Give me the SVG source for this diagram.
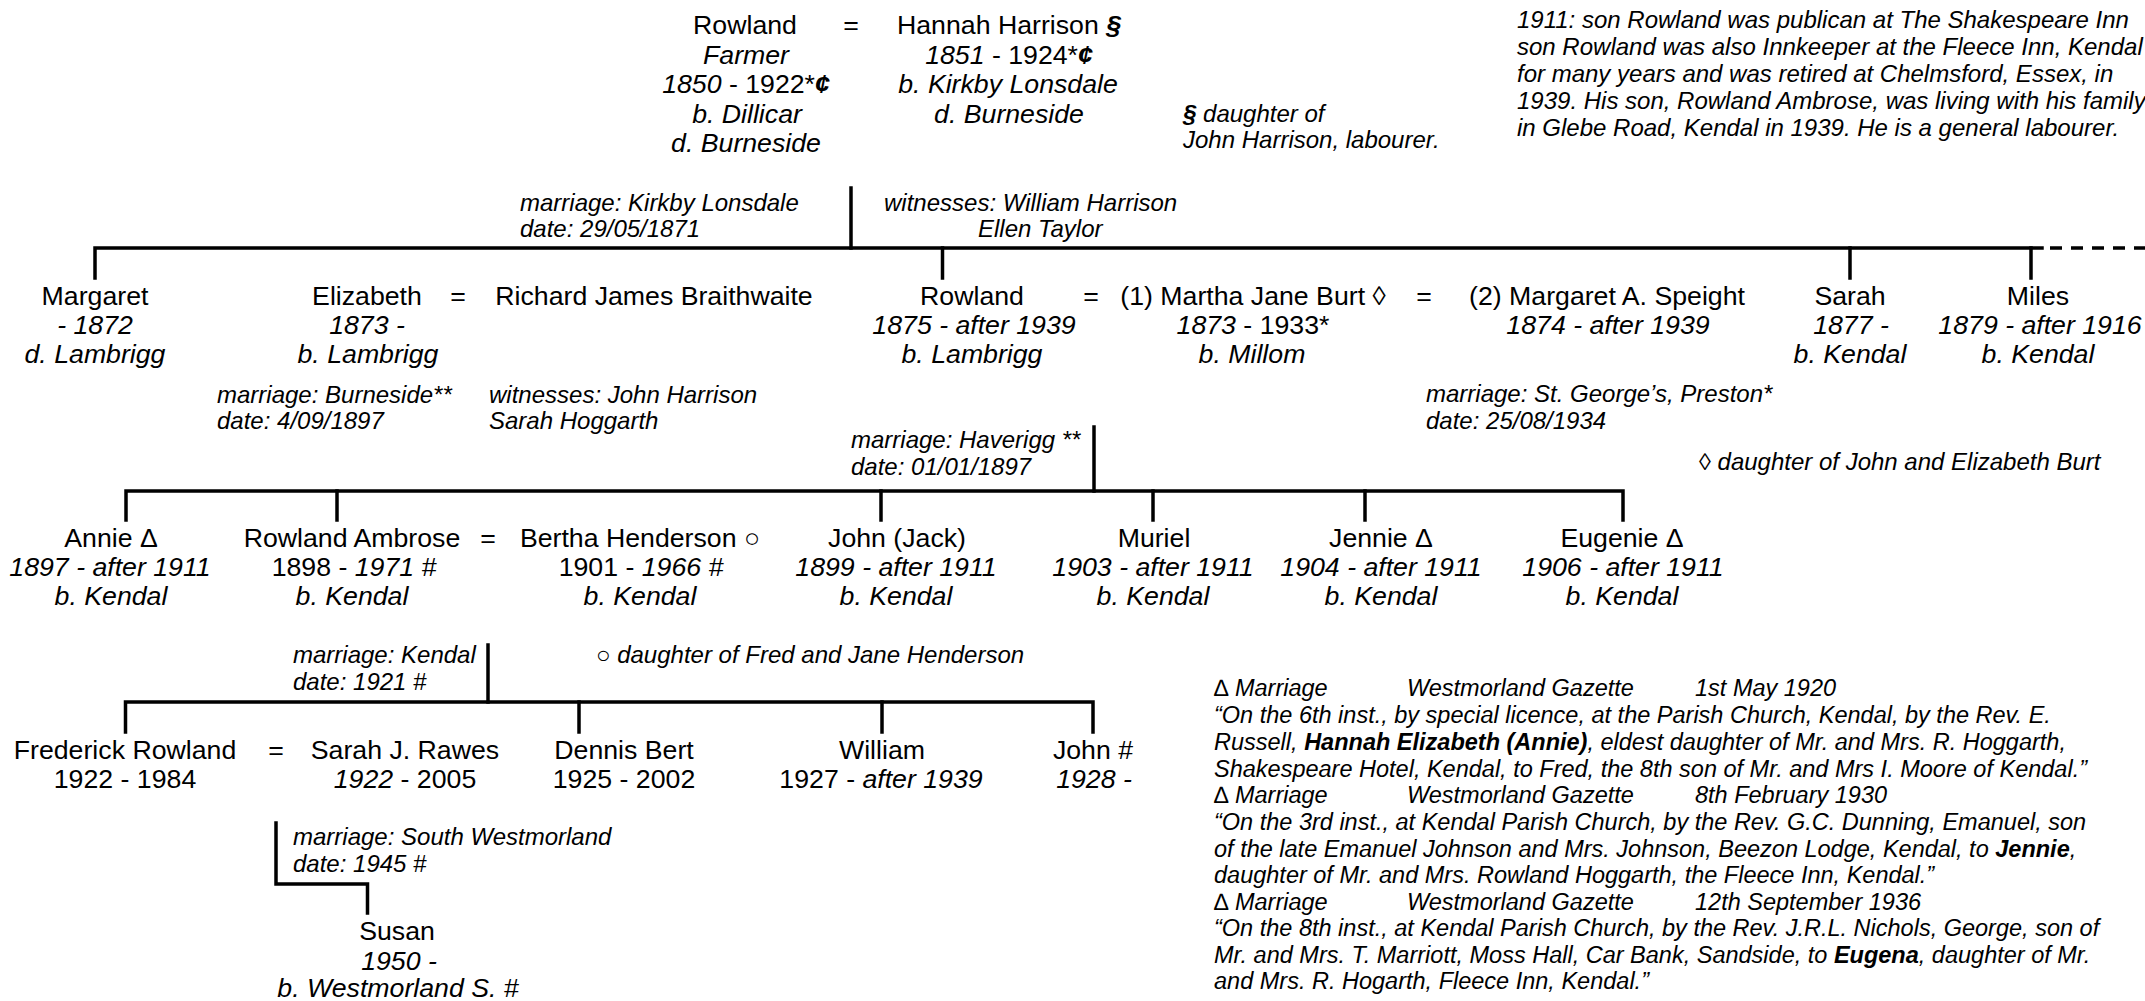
<svg xmlns="http://www.w3.org/2000/svg" width="2145" height="1001" viewBox="0 0 2145 1001">
<style>
text { font-family: "Liberation Sans", Arial, sans-serif; fill: #000; }
.n { font-size: 26.7px; text-anchor: middle; }
.a { font-size: 24px; font-style: italic; }
.g { font-size: 23.5px; font-style: italic; }
.i { font-style: italic; }
.r { font-style: normal; }
.b { font-weight: bold; }
.ln { stroke: #000; stroke-width: 3.5; fill: none; stroke-linecap: square; }
.dash { stroke: #000; stroke-width: 3.5; fill: none; stroke-dasharray: 12 9; }
</style>
<rect width="2145" height="1001" fill="#fff"/>

<g id="connectors">
  <path class="ln" d="M851 188 V248"/>
  <path class="ln" d="M95 278 V248 H2042"/>
  <path class="dash" d="M2050 248 H2145"/>
  <path class="ln" d="M942.5 248 V278"/>
  <path class="ln" d="M1850 248 V278"/>
  <path class="ln" d="M2031 248 V278"/>
  <path class="ln" d="M1094 427 V491"/>
  <path class="ln" d="M126 520 V491 H1623 V520"/>
  <path class="ln" d="M337 491 V520"/>
  <path class="ln" d="M881 491 V520"/>
  <path class="ln" d="M1153 491 V520"/>
  <path class="ln" d="M1365 491 V520"/>
  <path class="ln" d="M488 645 V702"/>
  <path class="ln" d="M125.5 732 V702 H1093 V732"/>
  <path class="ln" d="M579 702 V732"/>
  <path class="ln" d="M882 702 V732"/>
  <path class="ln" d="M276 823 V884 H367.5 V913"/>
</g>

<g id="rowland-sr">
  <text class="n" x="745" y="34">Rowland</text>
  <text class="n i" x="746" y="64">Farmer</text>
  <text class="n" x="746" y="93"><tspan class="i">1850</tspan> - 1922*<tspan class="i b">¢</tspan></text>
  <text class="n i" x="747" y="123">b. Dillicar</text>
  <text class="n i" x="746" y="152">d. Burneside</text>
</g>
<g id="eq-top"><text class="n" x="851" y="34">=</text></g>
<g id="hannah">
  <text class="n" x="1009" y="34">Hannah Harrison <tspan class="i b">§</tspan></text>
  <text class="n" x="1009" y="64"><tspan class="i">1851</tspan> - 1924*<tspan class="i b">¢</tspan></text>
  <text class="n i" x="1008" y="93">b. Kirkby Lonsdale</text>
  <text class="n i" x="1009" y="123">d. Burneside</text>
</g>
<g id="note-hannah">
  <text class="a" x="1183" y="122"><tspan class="b">§</tspan> daughter of</text>
  <text class="a" x="1183" y="148">John Harrison, labourer.</text>
</g>
<g id="note-1911">
  <text class="a" x="1517" y="28">1911: son Rowland was publican at The Shakespeare Inn</text>
  <text class="a" x="1517" y="55">son Rowland was also Innkeeper at the Fleece Inn, Kendal</text>
  <text class="a" x="1517" y="82">for many years and was retired at Chelmsford, Essex, in</text>
  <text class="a" x="1517" y="109">1939. His son, Rowland Ambrose, was living with his family</text>
  <text class="a" x="1517" y="136">in Glebe Road, Kendal in 1939. He is a general labourer.</text>
</g>
<g id="marriage-1871">
  <text class="a" x="520" y="211">marriage: Kirkby Lonsdale</text>
  <text class="a" x="520" y="237">date: 29/05/1871</text>
  <text class="a" x="884" y="211">witnesses: William Harrison</text>
  <text class="a" x="978" y="237">Ellen Taylor</text>
</g>

<g id="margaret">
  <text class="n" x="95" y="305">Margaret</text>
  <text class="n i" x="95" y="334">- 1872</text>
  <text class="n i" x="95" y="363">d. Lambrigg</text>
</g>
<g id="elizabeth">
  <text class="n" x="367" y="305">Elizabeth</text>
  <text class="n i" x="367" y="334">1873 -</text>
  <text class="n i" x="368" y="363">b. Lambrigg</text>
</g>
<g id="eq-eliz"><text class="n" x="458" y="305">=</text></g>
<g id="richard"><text class="n" x="654" y="305">Richard James Braithwaite</text></g>
<g id="marriage-1897b">
  <text class="a" x="217" y="403">marriage: Burneside**</text>
  <text class="a" x="217" y="429">date: 4/09/1897</text>
  <text class="a" x="489" y="403">witnesses: John Harrison</text>
  <text class="a" x="489" y="429">Sarah Hoggarth</text>
</g>
<g id="rowland">
  <text class="n" x="972" y="305">Rowland</text>
  <text class="n i" x="974" y="334">1875 - after 1939</text>
  <text class="n i" x="972" y="363">b. Lambrigg</text>
</g>
<g id="eq-rowland1"><text class="n" x="1091" y="305">=</text></g>
<g id="martha">
  <text class="n" x="1253" y="305">(1) Martha Jane Burt ◊</text>
  <text class="n" x="1253" y="334"><tspan class="i">1873</tspan> - 1933*</text>
  <text class="n i" x="1252" y="363">b. Millom</text>
</g>
<g id="eq-rowland2"><text class="n" x="1424" y="305">=</text></g>
<g id="margaret-speight">
  <text class="n" x="1607" y="305">(2) Margaret A. Speight</text>
  <text class="n i" x="1608" y="334">1874 - after 1939</text>
</g>
<g id="marriage-1934">
  <text class="a" x="1426" y="402">marriage: St. George’s, Preston*</text>
  <text class="a" x="1426" y="429">date: 25/08/1934</text>
</g>
<g id="note-burt">
  <text class="a" x="1699" y="470"><tspan class="r">◊</tspan> daughter of John and Elizabeth Burt</text>
</g>
<g id="sarah">
  <text class="n" x="1850" y="305">Sarah</text>
  <text class="n i" x="1851" y="334">1877 -</text>
  <text class="n i" x="1850" y="363">b. Kendal</text>
</g>
<g id="miles">
  <text class="n" x="2038" y="305">Miles</text>
  <text class="n i" x="2040" y="334">1879 - after 1916</text>
  <text class="n i" x="2038" y="363">b. Kendal</text>
</g>
<g id="marriage-1897h">
  <text class="a" x="851" y="448">marriage: Haverigg **</text>
  <text class="a" x="851" y="475">date: 01/01/1897</text>
</g>

<g id="annie">
  <text class="n" x="111" y="547">Annie Δ</text>
  <text class="n i" x="110" y="576">1897 - after 1911</text>
  <text class="n i" x="111" y="605">b. Kendal</text>
</g>
<g id="rowland-ambrose">
  <text class="n" x="352" y="547">Rowland Ambrose</text>
  <text class="n" x="354" y="576">1898 - <tspan class="i">1971 #</tspan></text>
  <text class="n i" x="352" y="605">b. Kendal</text>
</g>
<g id="eq-ra"><text class="n" x="488" y="547">=</text></g>
<g id="bertha">
  <text class="n" x="640" y="547">Bertha Henderson ○</text>
  <text class="n" x="641" y="576">1901 - <tspan class="i">1966 #</tspan></text>
  <text class="n i" x="640" y="605">b. Kendal</text>
</g>
<g id="john-jack">
  <text class="n" x="897" y="547">John (Jack)</text>
  <text class="n i" x="896" y="576">1899 - after 1911</text>
  <text class="n i" x="896" y="605">b. Kendal</text>
</g>
<g id="muriel">
  <text class="n" x="1154" y="547">Muriel</text>
  <text class="n i" x="1153" y="576">1903 - after 1911</text>
  <text class="n i" x="1153" y="605">b. Kendal</text>
</g>
<g id="jennie">
  <text class="n" x="1381" y="547">Jennie Δ</text>
  <text class="n i" x="1381" y="576">1904 - after 1911</text>
  <text class="n i" x="1381" y="605">b. Kendal</text>
</g>
<g id="eugenie">
  <text class="n" x="1622" y="547">Eugenie Δ</text>
  <text class="n i" x="1623" y="576">1906 - after 1911</text>
  <text class="n i" x="1622" y="605">b. Kendal</text>
</g>
<g id="marriage-1921">
  <text class="a" x="293" y="663">marriage: Kendal</text>
  <text class="a" x="293" y="690">date: 1921 #</text>
</g>
<g id="note-henderson">
  <text class="a" x="596" y="663"><tspan class="r">○</tspan> daughter of Fred and Jane Henderson</text>
</g>

<g id="frederick">
  <text class="n" x="125" y="759">Frederick Rowland</text>
  <text class="n" x="125" y="788">1922 - 1984</text>
</g>
<g id="eq-fr"><text class="n" x="276" y="759">=</text></g>
<g id="sarah-rawes">
  <text class="n" x="405" y="759">Sarah J. Rawes</text>
  <text class="n" x="405" y="788"><tspan class="i">1922</tspan> - 2005</text>
</g>
<g id="dennis">
  <text class="n" x="624" y="759">Dennis Bert</text>
  <text class="n" x="624" y="788">1925 - 2002</text>
</g>
<g id="william">
  <text class="n" x="882" y="759">William</text>
  <text class="n" x="881" y="788">1927 - <tspan class="i">after 1939</tspan></text>
</g>
<g id="john">
  <text class="n" x="1093" y="759">John #</text>
  <text class="n i" x="1094" y="788">1928 -</text>
</g>
<g id="marriage-1945">
  <text class="a" x="293" y="845">marriage: South Westmorland</text>
  <text class="a" x="293" y="872">date: 1945 #</text>
</g>
<g id="susan">
  <text class="n" x="397" y="940">Susan</text>
  <text class="n i" x="399" y="970">1950 -</text>
  <text class="n i" x="398" y="997">b. Westmorland S. #</text>
</g>

<g id="gazette-notes">
  <text class="g" x="1214" y="696"><tspan class="r">∆</tspan> Marriage</text>
  <text class="g" x="1407" y="696">Westmorland Gazette</text>
  <text class="g" x="1695" y="696">1st May 1920</text>
  <text class="g" x="1214" y="723">“On the 6th inst., by special licence, at the Parish Church, Kendal, by the Rev. E.</text>
  <text class="g" x="1214" y="750">Russell, <tspan class="b">Hannah Elizabeth (Annie)</tspan>, eldest daughter of Mr. and Mrs. R. Hoggarth,</text>
  <text class="g" x="1214" y="777">Shakespeare Hotel, Kendal, to Fred, the 8th son of Mr. and Mrs I. Moore of Kendal.”</text>
  <text class="g" x="1214" y="803"><tspan class="r">∆</tspan> Marriage</text>
  <text class="g" x="1407" y="803">Westmorland Gazette</text>
  <text class="g" x="1695" y="803">8th February 1930</text>
  <text class="g" x="1214" y="830">“On the 3rd inst., at Kendal Parish Church, by the Rev. G.C. Dunning, Emanuel, son</text>
  <text class="g" x="1214" y="857">of the late Emanuel Johnson and Mrs. Johnson, Beezon Lodge, Kendal, to <tspan class="b">Jennie</tspan>,</text>
  <text class="g" x="1214" y="883">daughter of Mr. and Mrs. Rowland Hoggarth, the Fleece Inn, Kendal.”</text>
  <text class="g" x="1214" y="910"><tspan class="r">∆</tspan> Marriage</text>
  <text class="g" x="1407" y="910">Westmorland Gazette</text>
  <text class="g" x="1695" y="910">12th September 1936</text>
  <text class="g" x="1214" y="936">“On the 8th inst., at Kendal Parish Church, by the Rev. J.R.L. Nichols, George, son of</text>
  <text class="g" x="1214" y="963">Mr. and Mrs. T. Marriott, Moss Hall, Car Bank, Sandside, to <tspan class="b">Eugena</tspan>, daughter of Mr.</text>
  <text class="g" x="1214" y="989">and Mrs. R. Hogarth, Fleece Inn, Kendal.”</text>
</g>
</svg>
